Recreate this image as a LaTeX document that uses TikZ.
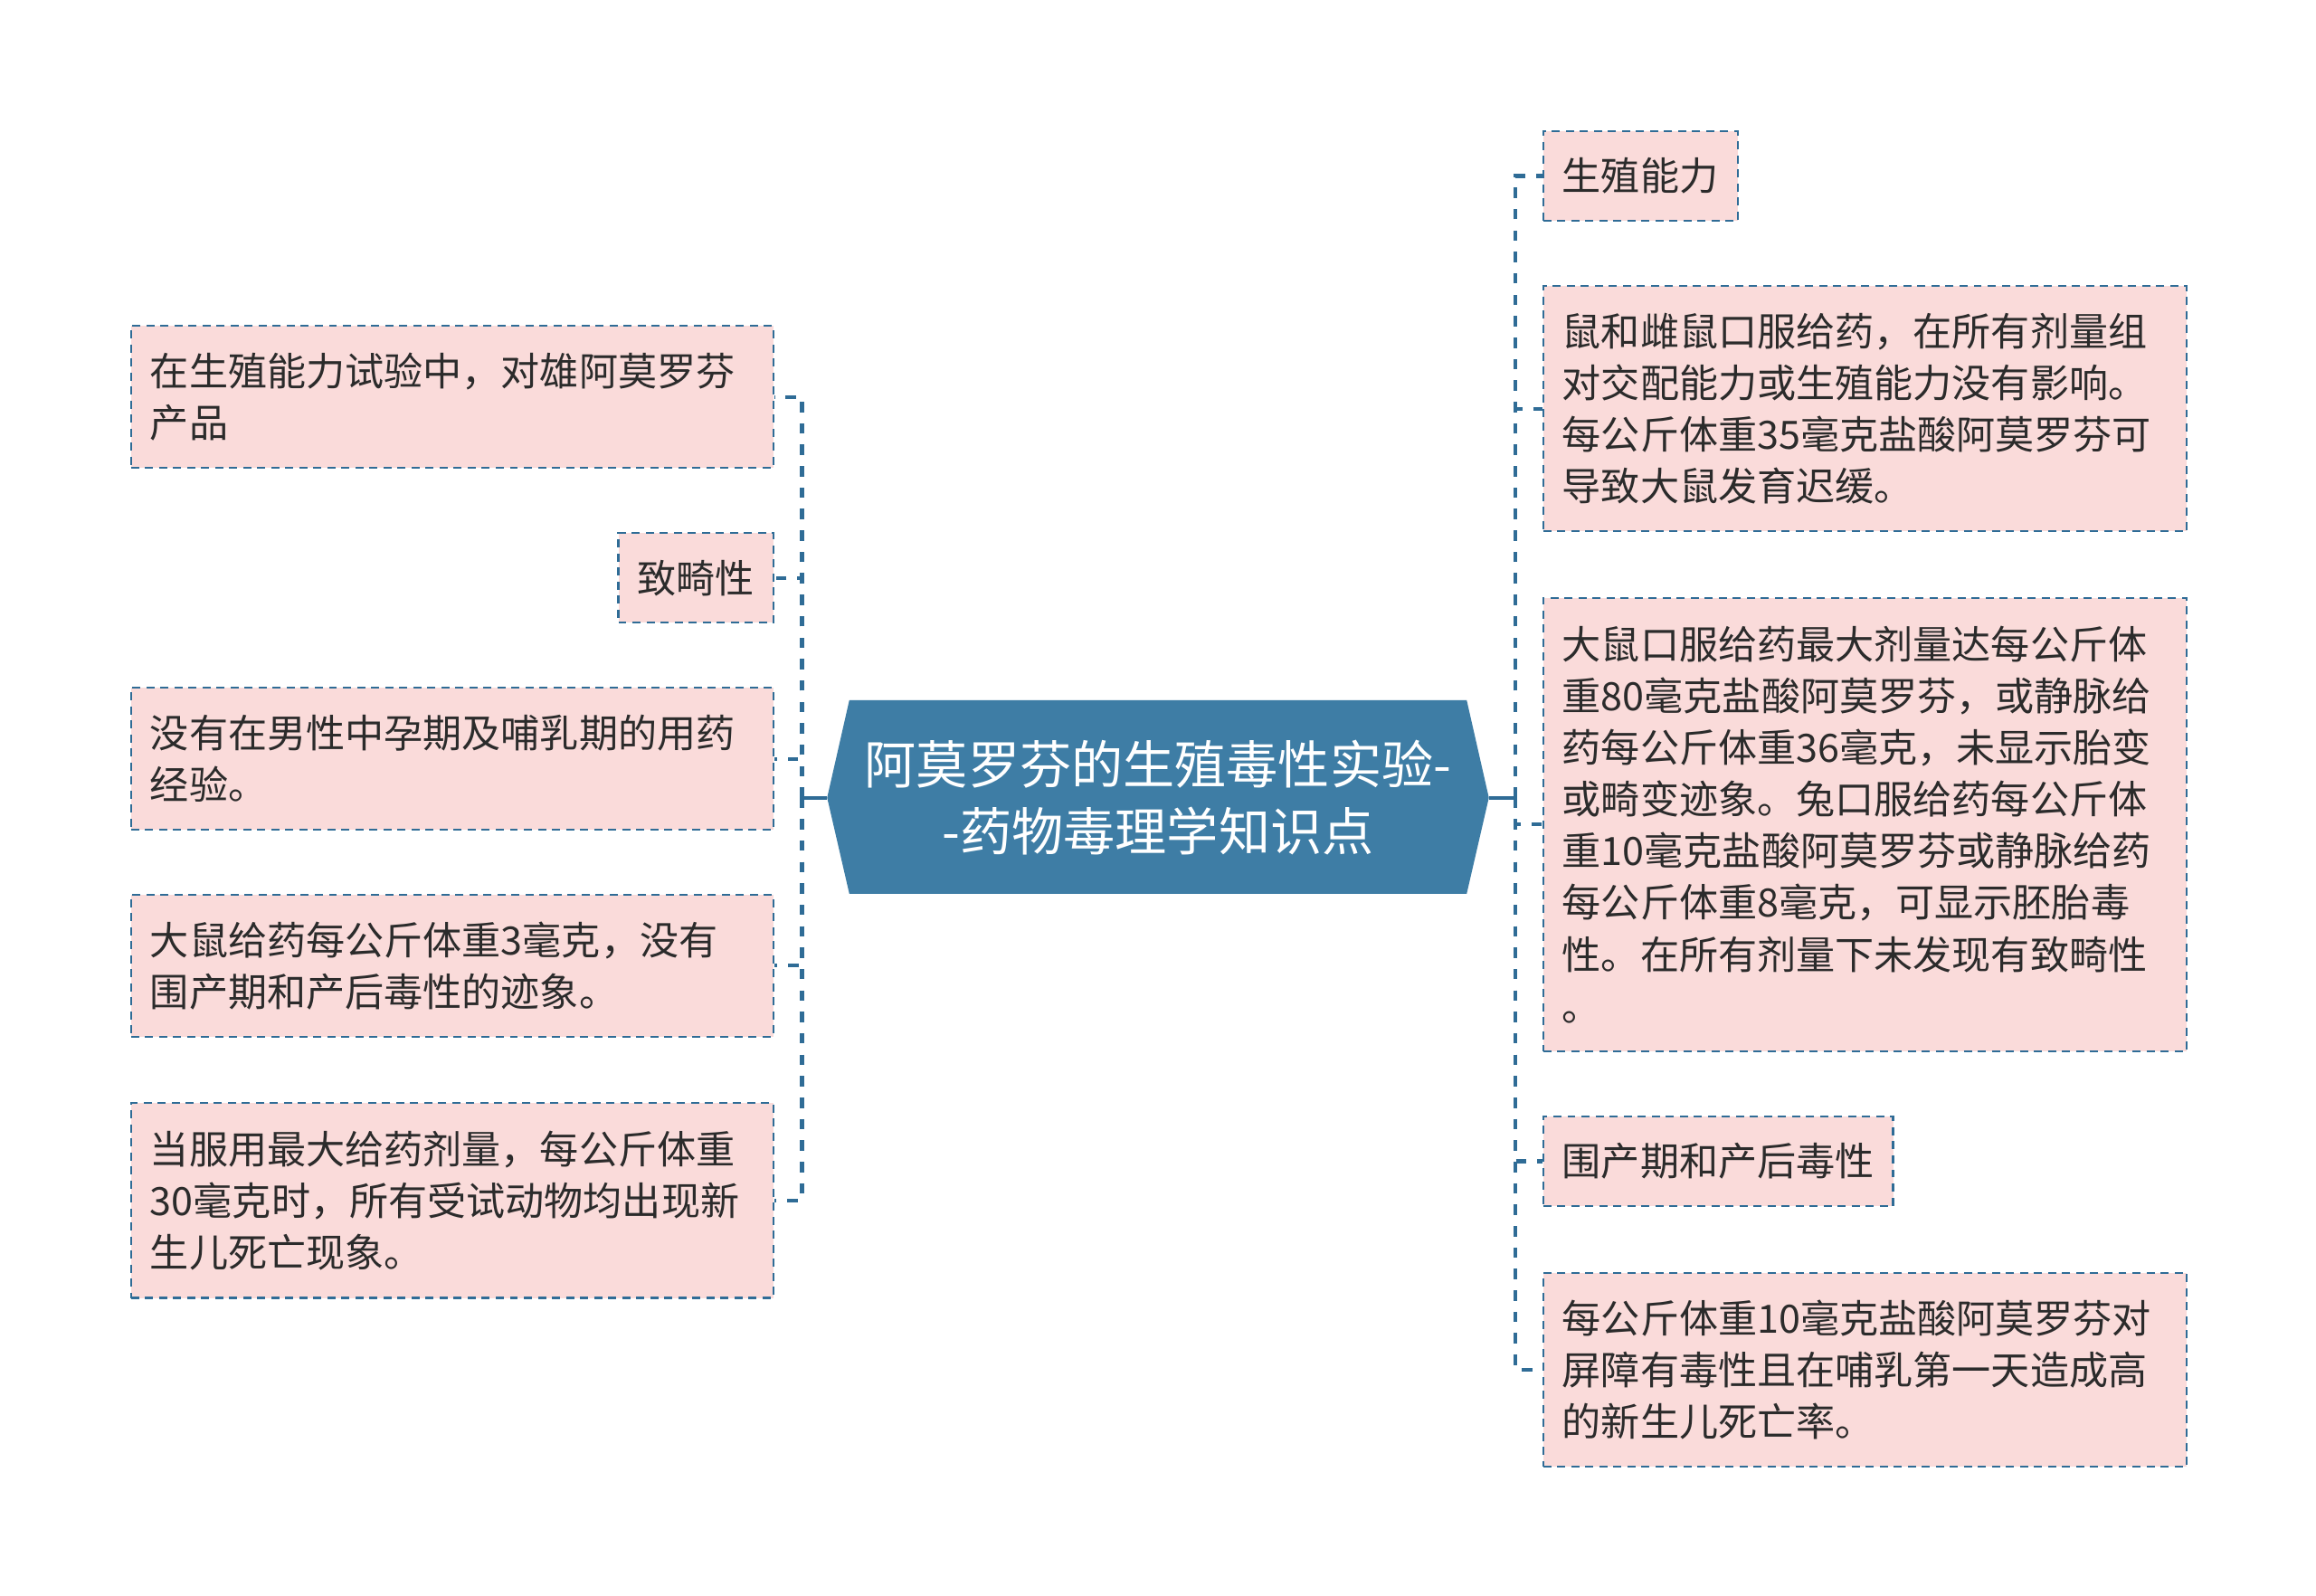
\documentclass[tikz,border=0pt]{standalone}
\usepackage{fontspec}
\setmainfont{Noto Sans CJK SC}
\definecolor{rootblue}{HTML}{3E7DA5}
\definecolor{linecol}{HTML}{2F6C96}
\definecolor{boxpink}{HTML}{FADBDA}
\definecolor{txtcol}{HTML}{2B2B2B}
\begin{document}
\begin{tikzpicture}[x=1pt,y=-1pt,
  leaf/.style={draw=linecol, fill=boxpink, line width=1.3pt, dash pattern=on 5.5pt off 4pt,
    rectangle, anchor=north west, inner xsep=13pt, inner ysep=0pt, text=txtcol,
    font=\fontsize{26.4}{35}\selectfont, align=left},
  conn/.style={draw=linecol, line width=2.6pt, dash pattern=on 7pt off 7.5pt},
  rootline/.style={draw=linecol, line width=2.6pt},
]
\useasboundingbox (0,0) rectangle (1568,1080);
\fill[white] (0,0) rectangle (1568,1080);

% root
\fill[rootblue] (560,540) -- (575,474) -- (993,474) -- (1008,540) -- (993,605) -- (575,605) -- cycle;
\node[text=white, font=\fontsize{35}{45}\selectfont, align=center, minimum width=448pt, minimum height=131pt, inner sep=0pt] (root) at (784,540) {阿莫罗芬的生殖毒性实验-\\-药物毒理学知识点};
\coordinate (Ltrunk) at (543,540);
\coordinate (Rtrunk) at (1026,540);

% left children
\node[leaf, text width=409pt, minimum height=96pt] (L1) at (88,220) {在生殖能力试验中，对雄阿莫罗芬\\产品};
\node[leaf, text width=79pt, minimum height=61pt] (L2) at (418,360) {致畸性};
\node[leaf, text width=409pt, minimum height=96pt] (L3) at (88,465) {没有在男性中孕期及哺乳期的用药\\经验。};
\node[leaf, text width=409pt, minimum height=96pt] (L4) at (88,605) {大鼠给药每公斤体重3毫克，没有\\围产期和产后毒性的迹象。};
\node[leaf, text width=409pt, minimum height=132pt] (L5) at (88,746) {当服用最大给药剂量，每公斤体重\\30毫克时，所有受试动物均出现新\\生儿死亡现象。};

% right children
\node[leaf, text width=106pt, minimum height=61pt] (R1) at (1044,88) {生殖能力};
\node[leaf, text width=410pt, minimum height=166pt] (R2) at (1044,193) {鼠和雌鼠口服给药，在所有剂量组\\对交配能力或生殖能力没有影响。\\每公斤体重35毫克盐酸阿莫罗芬可\\导致大鼠发育迟缓。};
\node[leaf, text width=410pt, minimum height=307pt] (R3) at (1044,404) {大鼠口服给药最大剂量达每公斤体\\重80毫克盐酸阿莫罗芬，或静脉给\\药每公斤体重36毫克，未显示胎变\\或畸变迹象。兔口服给药每公斤体\\重10毫克盐酸阿莫罗芬或静脉给药\\每公斤体重8毫克，可显示胚胎毒\\性。在所有剂量下未发现有致畸性\\。};
\node[leaf, text width=211pt, minimum height=61pt] (R4) at (1044,755) {围产期和产后毒性};
\node[leaf, text width=410pt, minimum height=131pt] (R5) at (1044,861) {每公斤体重10毫克盐酸阿莫罗芬对\\屏障有毒性且在哺乳第一天造成高\\的新生儿死亡率。};

% connectors
\draw[rootline] (root.west -| 560,0) -- (Ltrunk);
\draw[rootline] (root.east -| 1008,0) -- (Rtrunk);
\foreach \c in {L1,L2,L3,L4,L5} {
  \draw[conn] (Ltrunk) |- (\c.east);
}
\foreach \c in {R1,R2,R3,R4,R5} {
  \draw[conn] (Rtrunk) |- (\c.west);
}
\end{tikzpicture}
\end{document}
